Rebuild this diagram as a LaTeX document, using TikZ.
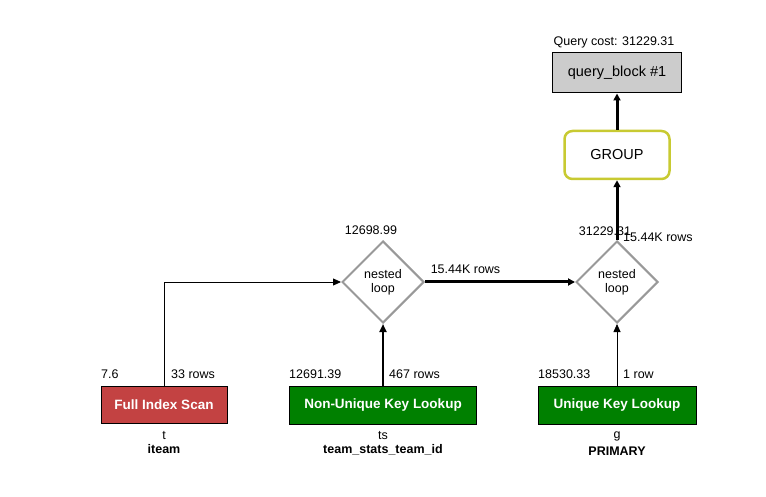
\documentclass[tikz,border=0pt]{standalone}
\usepackage{fontspec}
\setmainfont{Liberation Sans}
\usetikzlibrary{shapes.geometric,arrows.meta}
\definecolor{tablered}{HTML}{C34242}
\definecolor{lookupgreen}{HTML}{008000}
\definecolor{groupborder}{HTML}{C8CA32}
\definecolor{loopgray}{HTML}{999999}
\definecolor{blockgray}{HTML}{CCCCCC}
\tikzset{
  lbl/.style={font=\fontsize{12.5}{14}\selectfont, inner sep=0pt},
  lbll/.style={lbl, anchor=west},
  access/.style={draw=black, line width=1pt, text=white, font=\fontsize{13.5}{15}\selectfont\bfseries, inner sep=0pt},
  loopnode/.style={diamond, draw=loopgray, line width=2pt, fill=white, minimum size=82pt, inner sep=0pt, align=center, font=\fontsize{12.5}{14}\selectfont},
  thinedge/.style={draw, line width=0.8pt, -{Triangle[length=8pt,width=7pt]}},
  midedge/.style={draw, line width=2pt, -{Triangle[length=8pt,width=7pt]}},
  thickedge/.style={draw, line width=3pt, -{Triangle[length=7pt,width=7pt]}},
}
\begin{document}
\begin{tikzpicture}[x=1pt, y=-1pt]
  \useasboundingbox (0,0) rectangle (766,497);

  % query block and grouping
  \node[draw=black, line width=1pt, fill=blockgray, minimum width=129pt, minimum height=40pt, inner sep=0pt, font=\fontsize{14.5}{16}\selectfont] (qb) at (617,73) {query\_block \#1};
  \node[lbl] (qcost) at (614,42) {Query cost: 31229.31};
  \node[draw=groupborder, line width=2.5pt, rounded corners=8pt, fill=white, minimum width=105pt, minimum height=48pt, inner sep=0pt, font=\fontsize{14.5}{16}\selectfont] (grp) at (617,155) {GROUP};

  % nested loops
  \node[loopnode] (nl1) at (383,282) {nested\\loop};
  \node[loopnode] (nl2) at (617,282) {nested\\loop};
  \node[lbl] (c1) at (371,230) {12698.99};
  \node[lbl] (c2) at (605,231) {31229.31};

  % table access nodes
  \node[access, fill=tablered, minimum width=126pt, minimum height=37pt] (fis) at (164,404.5) {Full Index Scan};
  \node[access, fill=lookupgreen, minimum width=187pt, minimum height=38pt] (nukl) at (383,405) {Non-Unique Key Lookup};
  \node[access, fill=lookupgreen, minimum width=158pt, minimum height=38pt] (ukl) at (617,405) {Unique Key Lookup};

  % cost and row labels
  \node[lbll] (fisc) at (101,374) {7.6};
  \node[lbll] (fisr) at (171,374) {33 rows};
  \node[lbll] (nuklc) at (289,374) {12691.39};
  \node[lbll] (nuklr) at (389,374) {467 rows};
  \node[lbll] (uklc) at (538,374) {18530.33};
  \node[lbll] (uklr) at (623,374) {1 row};

  % table and key names
  \node[lbl] (t1) at (164,436) {t};
  \node[lbl, font=\fontsize{12.5}{14}\selectfont\bfseries] (k1) at (164,449) {iteam};
  \node[lbl] (t2) at (383,436) {ts};
  \node[lbl, font=\fontsize{12.5}{14}\selectfont\bfseries] (k2) at (383,450) {team\_stats\_team\_id};
  \node[lbl] (t3) at (617,436) {g};
  \node[lbl, font=\fontsize{12.5}{14}\selectfont\bfseries] (k3) at (617,451) {PRIMARY};

  % connectors
  \draw[thinedge] (fis.north) |- (nl1.west);
  \draw[midedge] (nukl.north) -- (nl1.south);
  \draw[thinedge] (ukl.north) -- (nl2.south);
  \draw[thickedge] (nl1.east) -- node[lbl, pos=0.27, above=7pt] (e1) {15.44K rows} (nl2.west);
  \draw[thickedge] (nl2.north) -- (grp.south);
  \draw[thickedge] (grp.north) -- (qb.south);
  \node[lbll] (e2) at (623,237) {15.44K rows};
\end{tikzpicture}
\end{document}
